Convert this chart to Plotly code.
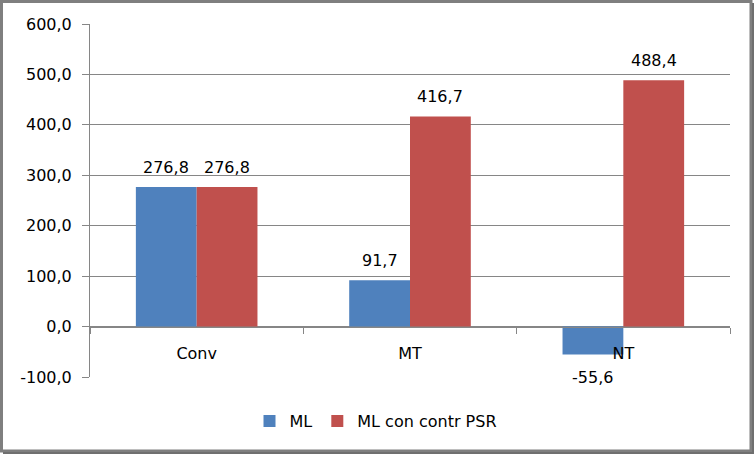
import plotly.graph_objects as go

categories = ["Conv", "MT", "NT"]
series_names = ["ML", "ML con contr PSR"]
ml = [276.8, 91.7, -55.6]
ml_psr = [276.8, 416.7, 488.4]
y_tickvals = [-100, 0, 100, 200, 300, 400, 500, 600]
y_ticktext = ["-100,0", "0,0", "100,0", "200,0", "300,0", "400,0", "500,0", "600,0"]

W, H = 754, 454
L, R, T, B = 90, 24, 24, 77
pw, ph = W - L - R, H - T - B
ymin, ymax = -100, 600
bargap = 0.43
FONT = "DejaVu Sans"
BLUE, RED = "#4F81BD", "#C0504D"
GRID = "#868686"

fig = go.Figure()
fig.add_trace(go.Bar(name=series_names[0], x=categories, y=ml, marker_color=BLUE, marker_line_width=0))
fig.add_trace(go.Bar(name=series_names[1], x=categories, y=ml_psr, marker_color=RED, marker_line_width=0))

fmt = lambda v: f"{v:.1f}".replace(".", ",")
off = (1 - bargap) / 4
annotations = []
for s, vals in enumerate([ml, ml_psr]):
    for i, v in enumerate(vals):
        xpos = i + (-off if s == 0 else off)
        if v >= 0:
            annotations.append(dict(x=xpos, y=v, xref="x", yref="y", text=fmt(v), showarrow=False,
                                    yanchor="bottom", yshift=8, font=dict(family=FONT, size=16, color="#000")))
        else:
            annotations.append(dict(x=xpos, y=v, xref="x", yref="y", text=fmt(v), showarrow=False,
                                    yanchor="top", yshift=-11, font=dict(family=FONT, size=16, color="#000")))

def px2x(px):
    return (px - L) / pw

def py2y(py):
    return (H - B - py) / ph

shapes = [
    dict(type="rect", xref="paper", yref="paper", x0=px2x(1.5), x1=px2x(751), y0=py2y(1.5), y1=py2y(451),
         line=dict(color="#7f7f7f", width=3), layer="above"),
    dict(type="line", xref="paper", yref="paper", x0=px2x(753), x1=px2x(753), y0=py2y(3), y1=py2y(454),
         line=dict(color="#6f6f6f", width=2)),
    dict(type="line", xref="paper", yref="paper", x0=px2x(3), x1=px2x(754), y0=py2y(453), y1=py2y(453),
         line=dict(color="#6f6f6f", width=2)),
]

fig.update_layout(
    width=W, height=H,
    margin=dict(l=L, r=R, t=T, b=B, pad=0),
    paper_bgcolor="white", plot_bgcolor="white",
    barmode="group", bargap=bargap, bargroupgap=0,
    separators=",.",
    font=dict(family=FONT, size=16, color="#000"),
    showlegend=True,
    legend=dict(orientation="h", x=px2x(376), xanchor="center", y=py2y(421), yanchor="middle",
                font=dict(family=FONT, size=16, color="#000"), bgcolor="rgba(0,0,0,0)"),
    annotations=annotations,
    shapes=shapes,
    xaxis=dict(anchor="free", position=(0 - ymin) / (ymax - ymin), showline=True, linecolor=GRID, linewidth=1,
               ticks="outside", tickson="boundaries", ticklen=6, tickcolor=GRID, ticklabelstandoff=12,
               showgrid=False, tickfont=dict(family=FONT, size=16, color="#000")),
    yaxis=dict(range=[ymin, ymax], tickvals=y_tickvals, ticktext=y_ticktext, showline=True, linecolor=GRID,
               linewidth=1, ticks="outside", ticklen=7, tickcolor=GRID, showgrid=True, gridcolor=GRID,
               gridwidth=1, zeroline=False, ticklabelstandoff=7,
               tickfont=dict(family=FONT, size=16, color="#000")),
)

fig.write_html("out.html")
